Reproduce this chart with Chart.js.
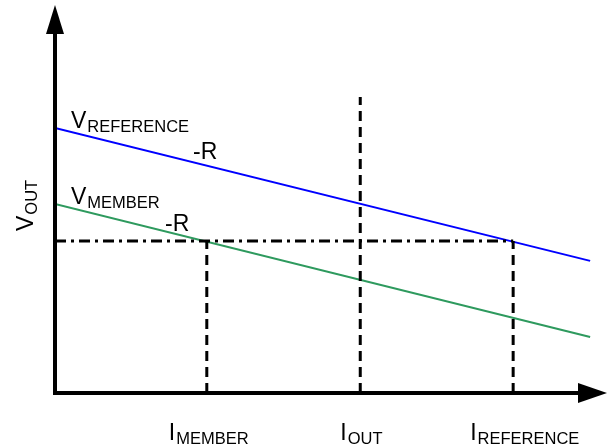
<!DOCTYPE html>
<html>
<head>
<meta charset="utf-8">
<script src="https://cdn.jsdelivr.net/npm/chart.js@4"></script>
<style>
  html, body { margin: 0; padding: 0; background: #fff; }
  #wrap { width: 610px; height: 448px; }
</style>
</head>
<body>
<div id="wrap"><canvas id="droop"></canvas></div>
<script>
// load-line values (arbitrary units)
const lineX = [0, 97.3];
const vReference = [69.0, 34.4];
const vMember = [49.2, 14.6];
const vLevel = 39.6;
const iMember = 27.6;
const iOut = 55.5;
const iReference = 83.3;
const iOutTop = 77.1;
const currentLabels = [
    { at: iMember, main: 'I', sub: 'MEMBER', shift: -38 },
    { at: iOut, main: 'I', sub: 'OUT', shift: -20 },
    { at: iReference, main: 'I', sub: 'REFERENCE', shift: -43 }
];

const FONT = '"Liberation Sans", Arial, sans-serif';

function pts(xs, ys) {
    return xs.map((x, i) => ({ x: x, y: ys[i] }));
}

function dashed(points, dash) {
    return {
        data: points,
        borderColor: '#000',
        borderWidth: 3,
        borderDash: dash,
        pointRadius: 0,
        showLine: true,
        fill: false
    };
}

// draw label with a subscript part
function subText(ctx, x, y, main, sub) {
    ctx.font = '23px ' + FONT;
    ctx.fillText(main, x, y);
    const w = ctx.measureText(main).width;
    ctx.font = '16.5px ' + FONT;
    ctx.fillText(sub, x + w + 1, y + 4);
}

const axesPlugin = {
    id: 'axes',
    afterDatasetsDraw(chart) {
        const ctx = chart.ctx;
        const a = chart.chartArea;
        const xs = chart.scales.x;
        ctx.save();
        ctx.strokeStyle = '#000';
        ctx.fillStyle = '#000';
        ctx.lineWidth = 4;
        // axes
        ctx.beginPath();
        ctx.moveTo(a.left, 30);
        ctx.lineTo(a.left, a.bottom);
        ctx.lineTo(a.right - 25, a.bottom);
        ctx.stroke();
        // arrow heads
        ctx.beginPath();
        ctx.moveTo(a.left, 5);
        ctx.lineTo(a.left - 9, 34);
        ctx.lineTo(a.left + 9, 34);
        ctx.closePath();
        ctx.fill();
        ctx.beginPath();
        ctx.moveTo(607, a.bottom);
        ctx.lineTo(578, a.bottom - 10);
        ctx.lineTo(578, a.bottom + 10);
        ctx.closePath();
        ctx.fill();

        ctx.textBaseline = 'alphabetic';
        ctx.textAlign = 'left';
        subText(ctx, 71, 128, 'V', 'REFERENCE');
        subText(ctx, 71, 204, 'V', 'MEMBER');
        ctx.font = '23px ' + FONT;
        ctx.fillText('-R', 193, 159);
        ctx.fillText('-R', 165, 231);

        // current labels under the x axis
        currentLabels.forEach(l => {
            const px = xs.getPixelForValue(l.at);
            subText(ctx, px + l.shift, 440, l.main, l.sub);
        });

        // rotated V_OUT
        ctx.translate(33, 231);
        ctx.rotate(-Math.PI / 2);
        subText(ctx, 0, 0, 'V', 'OUT');
        ctx.restore();
    }
};

new Chart(document.getElementById('droop'), {
    type: 'scatter',
    data: {
        datasets: [
            dashed([{ x: iMember, y: 0 }, { x: iMember, y: vLevel }], [10, 6]),
            dashed([{ x: iOut, y: 0 }, { x: iOut, y: iOutTop }], [10, 6]),
            dashed([{ x: iReference, y: 0 }, { x: iReference, y: vLevel }], [10, 6]),
            dashed([{ x: 0, y: vLevel }, { x: iReference, y: vLevel }], [11, 5, 3, 5]),
            {
                data: pts(lineX, vReference),
                borderColor: '#0000ff',
                borderWidth: 2,
                pointRadius: 0,
                showLine: true
            },
            {
                data: pts(lineX, vMember),
                borderColor: '#2e9a5e',
                borderWidth: 2,
                pointRadius: 0,
                showLine: true
            }
        ]
    },
    options: {
        responsive: true,
        maintainAspectRatio: false,
        animation: false,
        layout: { padding: { left: 55, right: 5, top: 9, bottom: 55 } },
        plugins: { legend: { display: false }, tooltip: { enabled: false } },
        scales: {
            x: { type: 'linear', display: false, min: 0, max: 100 },
            y: { type: 'linear', display: false, min: 0, max: 100 }
        }
    },
    plugins: [axesPlugin]
});
</script>
</body>
</html>
